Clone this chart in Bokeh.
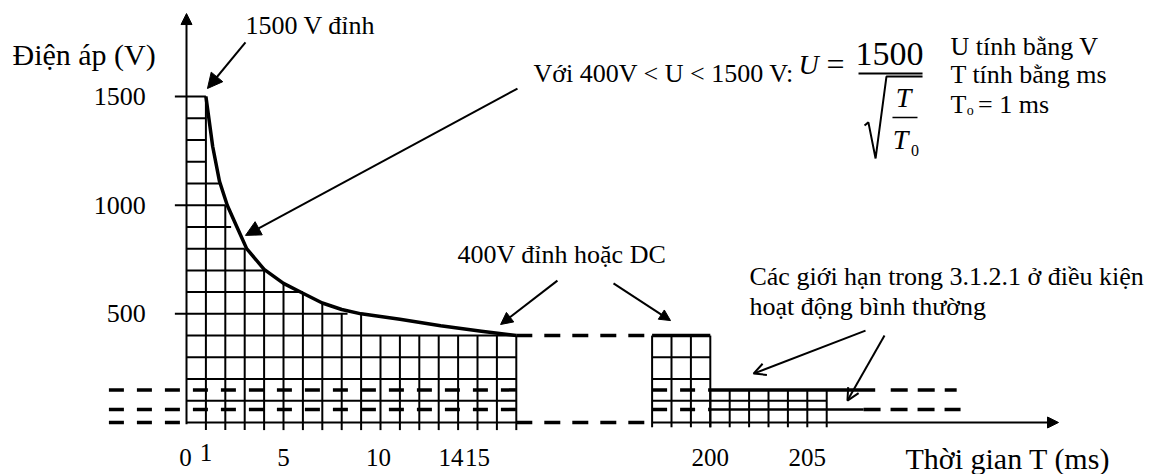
from bokeh.plotting import figure
from bokeh.models import Range1d, Arrow, NormalHead, OpenHead
from bokeh.core.properties import value
from bokeh.embed import file_html
from bokeh.resources import INLINE

FONT = value("Liberation Serif")

# ---------------- data ----------------
# voltage limit curve (T in ms, U in V), as drawn
curve_T = [1.0, 1.35, 1.7, 2.1, 2.6, 3.1, 4.0, 5.0, 6.0, 7.0, 8.0, 9.0, 11.0, 13.1, 15.2, 17.0]
curve_U = [1500, 1270, 1110, 1000, 900, 800, 705, 640, 595, 550, 520, 500, 475, 445, 420, 400]

# gridded area under the curve: column tops and row right ends
grid_cols_T = list(range(1, 18))
grid_cols_top = [1500, 1000, 800, 700, 640, 600, 550, 500, 500, 400, 400, 400, 400, 400, 400, 400, 400]
grid_rows_U = [100, 200, 300, 400, 500, 600, 700, 800, 900, 1000, 1100, 1200, 1300, 1400, 1500]
grid_rows_end = [17, 17, 17, 17, 8.3, 6.0, 4.0, 3.0, 2.3, 2.0, 1.7, 1.0, 1.0, 1.0, 1.0]

# right section: 400 V block and the normal-operation block
peak_cols_T = [197, 198, 199, 200]
peak_U = 400
peak_rows_U = [100, 200, 300]
low_cols_T = [200, 201, 202, 203, 204, 205, 206]
low_U = 150
low_rows_U = [100]
limit_U = [150, 60]
limit_solid_end = [208.5, 207.9]
limit_tail_start = [209.3, 207.9]
limit_tail_end = [212.7, 212.9]

y_tick_vals = [500, 1000, 1500]
y_tick_labels = ["500", "1000", "1500"]
x_tick_vals = [0, 1, 5, 10, 14, 15, 200, 205]
x_tick_labels = ["0", "1", "5", "10", "14", "15", "200", "205"]

GAP_END_T = 196.6
AXIS_END_T = 217.95
LIMIT_START_T = -4.0

# broken time axis: 0..17 ms, then 197..218 ms drawn right after the gap
SHIFT = 173
def xpos(t):
    return t if t <= 17.5 else t - SHIFT

K = "black"

p = figure(width=1161, height=474,
           x_range=Range1d(-9.588, 50.258), y_range=Range1d(-239.3, 1942.0),
           output_backend="svg", toolbar_location=None,
           x_axis_type=None, y_axis_type=None, min_border=0)
p.outline_line_color = None
p.background_fill_color = "white"
p.border_fill_color = "white"

# ---------------- left gridded area ----------------
n = len(grid_cols_T)
p.segment(x0=[xpos(t) for t in grid_cols_T], y0=[-35] * n,
          x1=[xpos(t) for t in grid_cols_T], y1=grid_cols_top,
          line_color=K, line_width=2)
row_start = [-0.6 if u in y_tick_vals else 0 for u in grid_rows_U]
p.segment(x0=row_start, y0=grid_rows_U, x1=[xpos(t) for t in grid_rows_end], y1=grid_rows_U,
          line_color=K, line_width=2)
p.segment(x0=[0], y0=[0], x1=[xpos(17)], y1=[0], line_color=K, line_width=2)

# limit curve
p.line([xpos(t) for t in curve_T], curve_U, line_color=K, line_width=3.5, line_join="round")

# dashed normal-operation limits across the left part
p.segment(x0=[LIMIT_START_T] * 2, y0=limit_U, x1=[xpos(17)] * 2, y1=limit_U,
          line_color=K, line_width=3.5, line_dash="15 13")
p.segment(x0=[LIMIT_START_T], y0=[0], x1=[0], y1=[0],
          line_color=K, line_width=3.5, line_dash="15 13")

# dashed gap 17 ms ... 197 ms at 400 V and 0 V
p.segment(x0=[xpos(17)] * 2, y0=[peak_U, 0], x1=[xpos(GAP_END_T)] * 2, y1=[peak_U, 0],
          line_color=K, line_width=3.5, line_dash="16 12")

# ---------------- right blocks ----------------
m = len(peak_cols_T)
p.segment(x0=[xpos(t) for t in peak_cols_T], y0=[-22] * m,
          x1=[xpos(t) for t in peak_cols_T], y1=[peak_U] * m, line_color=K, line_width=2)
p.segment(x0=[xpos(peak_cols_T[0])] * len(peak_rows_U), y0=peak_rows_U,
          x1=[xpos(peak_cols_T[-1])] * len(peak_rows_U), y1=peak_rows_U, line_color=K, line_width=2)
p.segment(x0=[xpos(peak_cols_T[0])], y0=[peak_U], x1=[xpos(peak_cols_T[-1])], y1=[peak_U],
          line_color=K, line_width=3.5)
q = len(low_cols_T)
p.segment(x0=[xpos(t) for t in low_cols_T], y0=[-22] * q,
          x1=[xpos(t) for t in low_cols_T], y1=[low_U] * q, line_color=K, line_width=2)
p.segment(x0=[xpos(low_cols_T[0])] * len(low_rows_U), y0=low_rows_U,
          x1=[xpos(low_cols_T[-1])] * len(low_rows_U), y1=low_rows_U, line_color=K, line_width=2)
# limits in the right part
p.segment(x0=[xpos(peak_cols_T[0])] * 2, y0=limit_U, x1=[xpos(low_cols_T[0])] * 2, y1=limit_U,
          line_color=K, line_width=3.5, line_dash="15 13")
p.segment(x0=[xpos(low_cols_T[0])] * 2, y0=limit_U, x1=[xpos(t) for t in limit_solid_end], y1=limit_U,
          line_color=K, line_width=[3.5, 2.5])
p.segment(x0=[xpos(t) for t in limit_tail_start], y0=limit_U,
          x1=[xpos(t) for t in limit_tail_end], y1=limit_U,
          line_color=K, line_width=3.5, line_dash="17 10")

# ---------------- axes ----------------
p.add_layout(Arrow(end=NormalHead(size=11, fill_color=K, line_color=K),
                   x_start=xpos(peak_cols_T[0]), y_start=0, x_end=xpos(AXIS_END_T), y_end=0,
                   line_color=K, line_width=2))
p.add_layout(Arrow(end=NormalHead(size=11, fill_color=K, line_color=K),
                   x_start=0, y_start=-8, x_end=0, y_end=1882,
                   line_color=K, line_width=2))

p.text(x=[-2.1] * 3, y=y_tick_vals, text=y_tick_labels, text_font=FONT,
       text_font_size="26px", text_align="right", text_baseline="middle", text_color=K)
x_off = [-1, 0, 0, -2, -7, 0, 0, 0]
y_off = [0, -5, 0, 0, 0, 0, 0, 0]
p.text(x=[xpos(t) for t in x_tick_vals], y=[-161] * len(x_tick_vals), text=x_tick_labels,
       x_offset=x_off, y_offset=y_off, text_font=FONT, text_font_size="25px",
       text_align="center", text_baseline="middle", text_color=K)

# ---------------- texts ----------------
def say(x, y, s, size="26px", align="left", style="normal"):
    p.text(x=[x], y=[y], text=[s], text_font=FONT, text_font_size=size, text_align=align,
           text_baseline="middle", text_font_style=style, text_color=K)

say(-8.97, 1694, "Điện áp (V)", size="30px")
say(37.06, -166, "Thời gian T (ms)", size="30px")

say(3.04, 1828, "1500 V đỉnh")
say(17.89, 1604, "Với 400V < U < 1500 V:")
say(31.55, 1648, "U", size="28px", style="italic")
say(33.45, 1652, "=", size="32px", align="center")
say(36.24, 1694, "1500", size="34px", align="center")
say(36.96, 1496, "T", size="28px", align="center", style="italic")
say(36.8, 1302, "T", size="28px", align="center", style="italic")
say(37.35, 1252, "0", size="16px")
# fraction bars and radical
p.line([34.64, 37.94], [1606, 1606], line_color=K, line_width=2)
p.line([36.39, 37.68], [1404, 1404], line_color=K, line_width=1.5)
p.line([34.95, 35.15, 35.52, 36.08, 37.94], [1367, 1381, 1215, 1592, 1592], line_color=K, line_width=2)

say(39.38, 1730, "U tính bằng V")
say(39.38, 1601, "T tính bằng ms")
say(39.38, 1463, "T")
say(40.22, 1436, "o", size="14px")
say(40.8, 1463, "= 1 ms")

say(13.97, 775, "400V đỉnh hoặc DC")
say(29.02, 670, "Các giới hạn trong 3.1.2.1 ở điều kiện")
say(29.02, 536, "hoạt động bình thường")

filled_arrows = [(3.04, 1749, 1.08, 1537, 15), (17.06, 1537, 3.04, 861, 15),
                 (19.12, 653, 16.19, 451, 12), (22.01, 640, 24.95, 469, 11)]
for x0, y0, x1, y1, s in filled_arrows:
    p.add_layout(Arrow(end=NormalHead(size=s, fill_color=K, line_color=K),
                       x_start=x0, y_start=y0, x_end=x1, y_end=y1, line_color=K, line_width=2))
open_arrows = [(35.0, 423, 29.23, 225), (35.98, 400, 34.07, 101)]
for x0, y0, x1, y1 in open_arrows:
    p.add_layout(Arrow(end=OpenHead(size=12, line_color=K, line_width=2),
                       x_start=x0, y_start=y0, x_end=x1, y_end=y1, line_color=K, line_width=2))

open("out.html", "w").write(file_html(p, INLINE))
